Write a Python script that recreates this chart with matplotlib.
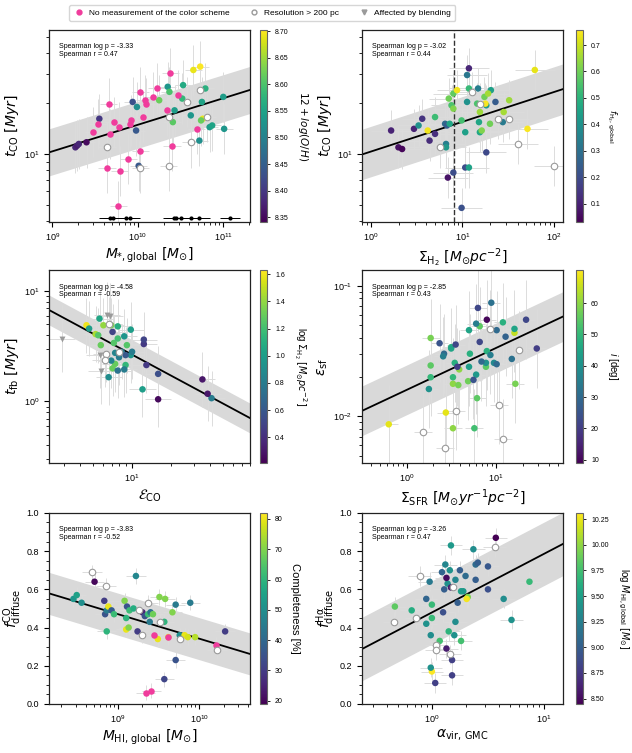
import numpy as np
import matplotlib
matplotlib.use("Agg")
import matplotlib.pyplot as plt
from matplotlib.lines import Line2D
from matplotlib.ticker import NullFormatter

plt.rcParams["font.family"] = ["Liberation Sans", "DejaVu Sans"]
plt.rcParams["mathtext.fontset"] = "dejavusans"

PINK = "#f03c9c"
ERR_COLOR = "#dcdcdc"
BAND_COLOR = "#d9d9d9"
OPEN_EDGE = "#9a9a9a"

# ---------------------------------------------------------------------------
# panel 1: t_CO vs M*,global  (log10 values)
p1_logm = [9.27, 9.29, 9.31, 9.40, 9.55, 9.94, 9.98, 10.01, 9.99, 10.25,
           10.35, 10.37, 10.43, 10.41, 10.52, 10.53, 10.62, 10.65, 10.73, 10.75,
           10.79, 10.76, 10.74, 10.72, 10.84, 10.87, 11.00, 11.01]
p1_logt = [1.04, 1.05, 1.06, 1.07, 1.21, 1.31, 1.14, 0.93, 1.28, 1.32,
           1.40, 1.37, 1.26, 1.19, 1.33, 1.41, 1.23, 1.50, 1.52, 1.31,
           1.39, 1.21, 1.20, 1.08, 1.16, 1.17, 1.34, 1.15]
p1_oh = [8.38, 8.37, 8.38, 8.35, 8.40, 8.43, 8.44, 8.44, 8.52, 8.62,
         8.53, 8.60, 8.54, 8.61, 8.58, 8.56, 8.53, 8.69, 8.70, 8.55,
         8.57, 8.69, 8.62, 8.52, 8.54, 8.55, 8.54, 8.53]
p1_pink_logm = [9.66, 9.53, 9.48, 9.67, 9.72, 9.78, 9.91, 9.92, 10.06, 10.03,
                10.08, 10.10, 10.18, 10.22, 10.34, 10.38, 10.47, 10.40, 10.03, 9.89,
                9.64, 9.79, 9.77, 10.69]
p1_pink_logt = [1.30, 1.18, 1.13, 1.12, 1.19, 1.16, 1.18, 1.20, 1.22, 1.37,
                1.32, 1.30, 1.34, 1.39, 1.26, 1.48, 1.35, 1.05, 1.02, 0.97,
                0.92, 0.90, 0.69, 1.15]
p1_open_logm = [9.64, 10.03, 10.36, 10.36, 10.57, 10.62, 10.73, 10.81]
p1_open_logt = [1.04, 0.92, 0.93, 1.22, 1.31, 1.07, 1.38, 1.22]
p1_lim_logm = [9.67, 9.71, 9.86, 9.91, 10.42, 10.45, 10.51, 10.62, 10.72, 11.08]
p1_lim_logt = 0.62

# panel 2: t_CO vs Sigma_H2
p2_logs = [0.22, 0.30, 0.34, 0.47, 0.56, 0.64, 0.70, 0.84, 1.07, 0.90,
           1.03, 0.99, 1.26, 1.36, 0.52, 0.81, 0.83, 0.86, 0.82, 0.82,
           1.05, 1.05, 1.17, 1.03, 1.07, 1.18, 1.19, 1.31, 1.26, 1.44,
           0.70, 0.85, 0.88, 0.90, 0.90, 0.99, 1.07, 1.16, 1.19, 1.21,
           1.24, 1.28, 1.30, 1.51, 1.45, 0.62, 0.94, 1.25, 1.71, 1.79]
p2_logt = [1.14, 1.04, 1.03, 1.15, 1.21, 1.08, 1.12, 0.86, 1.51, 0.89,
           0.92, 0.68, 1.01, 1.31, 1.17, 1.18, 1.17, 1.18, 1.06, 1.04,
           1.47, 1.31, 1.39, 1.13, 0.92, 1.19, 1.13, 1.38, 1.29, 1.19,
           1.22, 1.33, 1.29, 1.36, 1.27, 1.20, 1.39, 1.30, 1.25, 1.14,
           1.34, 1.36, 1.18, 1.32, 1.25, 1.14, 1.38, 1.30, 1.15, 1.50]
p2_fh2 = [0.10, 0.06, 0.04, 0.10, 0.14, 0.12, 0.13, 0.07, 0.11, 0.20,
          0.20, 0.21, 0.19, 0.24, 0.40, 0.28, 0.24, 0.46, 0.34, 0.42,
          0.32, 0.40, 0.34, 0.44, 0.45, 0.46, 0.46, 0.44, 0.42, 0.33,
          0.53, 0.60, 0.55, 0.58, 0.62, 0.54, 0.52, 0.55, 0.65, 0.62,
          0.60, 0.66, 0.60, 0.65, 0.66, 0.74, 0.74, 0.75, 0.75, 0.73]
p2_open_logs = [0.75, 1.10, 1.19, 1.39, 1.51, 1.61, 2.00]
p2_open_logt = [1.04, 1.37, 1.30, 1.21, 1.21, 1.06, 0.93]
p2_sigma_cut = 8.0

# panel 3: t_fb vs E_CO
p3_loge = [0.65, 0.72, 0.78, 0.74, 0.76, 0.84, 0.85, 0.87, 0.86, 0.89,
           0.96, 0.95, 0.67, 0.75, 0.89, 0.99, 0.94, 0.99, 1.00, 0.87,
           0.92, 0.84, 0.90, 0.89, 0.94, 0.82, 1.08, 1.61, 0.85, 1.09,
           1.09, 1.11, 1.20, 0.95, 1.20, 1.54, 1.58]
p3_logt = [0.69, 0.61, 0.69, 0.60, 0.51, 0.69, 0.30, 0.34, 0.53, 0.57,
           0.51, 0.33, 0.66, 0.75, 0.68, 0.65, 0.59, 0.42, 0.45, 0.44,
           0.45, 0.37, 0.40, 0.28, 0.29, 0.22, 0.11, 0.03, 0.63, 0.52,
           0.56, 0.33, 0.25, 0.42, 0.02, 0.20, 0.07]
p3_logsig = [1.60, 1.45, 1.40, 1.25, 1.30, 1.35, 1.30, 1.30, 1.25, 1.20,
             1.25, 1.15, 1.00, 1.05, 1.10, 1.00, 0.95, 0.95, 0.80, 0.85,
             0.80, 0.85, 0.80, 0.75, 0.80, 0.90, 1.00, 0.80, 0.50, 0.45,
             0.50, 0.45, 0.55, 0.60, 0.25, 0.30, 0.30]
p3_open_loge = [0.82, 0.80, 0.79, 0.90]
p3_open_logt = [0.70, 0.43, 0.38, 0.45]
p3_tri_loge = [0.46, 0.81, 0.83, 0.75, 0.76]
p3_tri_logt = [0.57, 0.78, 0.77, 0.42, 0.28]

# panel 4: eps_sf vs Sigma_SFR
p4_logsfr = [-0.20, 0.44, 1.21, 0.27, 0.27, 0.52, 0.58, 0.52, 0.59, 0.69,
             0.79, 0.82, 0.89, 1.22, 0.76, 0.27, 0.25, 0.50, 0.50, 0.52,
             0.54, 0.70, 0.71, 0.70, 0.78, 0.90, 0.89, 0.98, 1.08, 1.21,
             0.37, 0.42, 0.41, 0.55, 0.80, 0.95, 0.78, 0.82, 0.84, 0.94,
             1.01, 1.01, 1.11, 1.18, 1.34, 1.46, 0.75, 0.57, 0.90]
p4_logeps = [-2.06, -1.97, -1.36, -1.40, -1.61, -1.75, -1.76, -2.09, -1.64, -1.73,
             -1.86, -1.31, -1.62, -1.75, -2.09, -1.70, -1.79, -1.47, -1.48, -1.70,
             -1.59, -1.34, -1.52, -1.62, -1.68, -1.50, -1.59, -1.59, -1.28, -1.33,
             -1.44, -1.52, -1.54, -1.45, -1.17, -1.13, -1.29, -1.43, -1.58, -1.53,
             -1.34, -1.60, -1.39, -1.56, -1.26, -1.48, -1.72, -1.62, -1.26]
p4_incl = [68, 68, 65, 58, 55, 60, 58, 60, 60, 57,
           55, 55, 55, 58, 52, 50, 40, 48, 45, 50,
           48, 45, 48, 43, 42, 48, 40, 38, 48, 45,
           25, 30, 35, 22, 22, 32, 35, 22, 30, 35,
           30, 30, 28, 32, 22, 20, 25, 20, 10]
p4_open_logsfr = [0.18, 0.43, 0.55, 0.94, 1.04, 1.08, 1.26]
p4_open_logeps = [-2.12, -2.24, -1.96, -1.33, -1.91, -2.17, -1.49]

# panel 5: f_diffuse(CO) vs M_HI,global
p5_logmhi = [8.45, 8.49, 8.55, 8.71, 8.83, 8.84, 8.86, 8.86, 8.88, 8.92,
             8.95, 9.08, 9.10, 9.11, 9.10, 9.13, 9.14, 9.19, 9.22, 9.24,
             9.30, 9.33, 9.37, 9.39, 9.40, 9.43, 9.51, 9.58, 9.57, 9.49,
             9.62, 9.67, 9.71, 9.71, 9.57, 9.76, 9.82, 9.86, 9.95, 9.89,
             10.32]
p5_fco = [0.55, 0.57, 0.53, 0.64, 0.54, 0.47, 0.49, 0.38, 0.51, 0.49,
          0.47, 0.54, 0.39, 0.51, 0.45, 0.40, 0.49, 0.50, 0.67, 0.38,
          0.48, 0.46, 0.47, 0.43, 0.48, 0.47, 0.56, 0.55, 0.43, 0.34,
          0.35, 0.48, 0.52, 0.23, 0.13, 0.36, 0.36, 0.35, 0.35, 0.53,
          0.38]
p5_compl = [52, 55, 50, 20, 30, 35, 45, 60, 80, 37,
            62, 70, 80, 35, 60, 70, 62, 58, 48, 30,
            25, 35, 62, 45, 42, 68, 70, 70, 60, 80,
            80, 70, 45, 35, 32, 50, 80, 78, 75, 45,
            30]
p5_pink_logmhi = [9.44, 9.61, 9.34, 9.41, 10.21]
p5_pink_fco = [0.36, 0.35, 0.06, 0.07, 0.31]
p5_open_logmhi = [8.68, 8.85, 9.26, 9.29, 9.37, 9.52, 9.76, 10.22]
p5_open_fco = [0.69, 0.62, 0.49, 0.36, 0.53, 0.43, 0.34, 0.28]

# panel 6: f_diffuse(Halpha) vs alpha_vir
p6_logavir = [-0.33, -0.18, 0.00, 0.00, 0.07, 0.15, 0.26, 0.87, 0.32, 0.31,
              0.00, -0.05, -0.01, -0.01, -0.02, 0.12, 0.16, 0.17, 0.14, 0.21,
              0.21, 0.20, 0.26, 0.28, 0.37, 0.64, 0.71, -0.05, 0.10, 0.09,
              0.11, 0.23, 0.25, 0.30, 0.39, 0.41, 0.39, 0.50, 0.50, 0.18,
              0.18, 0.03, 0.13, 0.17, 0.13, 0.57]
p6_fha = [0.51, 0.49, 0.52, 0.45, 0.33, 0.38, 0.33, 0.64, 0.56, 0.55,
          0.17, 0.42, 0.36, 0.19, 0.64, 0.73, 0.70, 0.83, 0.63, 0.65,
          0.43, 0.36, 0.59, 0.59, 0.81, 0.55, 0.44, 0.55, 0.48, 0.69,
          0.60, 0.53, 0.70, 0.67, 0.73, 0.74, 0.65, 0.72, 0.60, 0.23,
          0.15, 0.11, 0.66, 0.61, 0.29, 0.87]
p6_logmhi = [9.85, 9.60, 9.70, 9.70, 9.75, 9.65, 9.75, 9.70, 9.95, 10.28,
             10.30, 9.40, 9.35, 9.40, 9.20, 9.30, 9.40, 9.45, 9.40, 9.30,
             9.35, 9.40, 9.50, 9.45, 9.35, 9.35, 9.40, 9.05, 8.90, 9.05,
             9.00, 9.00, 9.00, 9.10, 9.10, 9.00, 9.00, 8.95, 8.90, 8.80,
             8.80, 8.80, 8.50, 8.60, 8.60, 8.45]
p6_open_logavir = [-0.34, -0.11, -0.14, 0.04, 0.04, 0.16, 0.56, 0.19]
p6_open_fha = [0.43, 0.67, 0.45, 0.31, 0.28, 0.26, 0.82, 0.61]

# fits: intercept, slope (in log x), scatter half-width
fits = {
    1: (-0.406, 0.158, 0.14),
    2: (1.015, 0.177, 0.15),
    3: (1.058, -0.634, 0.135),
    4: (-1.797, 0.320, 0.19),
    5: (1.622, -0.128, 0.11),
    6: (0.479, 0.307, 0.166),
}
stats = {
    1: ("-3.33", "0.47"), 2: ("-3.02", "0.44"), 3: ("-4.58", "-0.59"),
    4: ("-2.85", "0.43"), 5: ("-3.83", "-0.52"), 6: ("-3.26", "0.47"),
}


def plot_points(ax, lx, ly, logy, ex, ey, **kw):
    """Error bars (in dex for log axes) plus the markers on top."""
    lx = np.asarray(lx, dtype=float)
    ly = np.asarray(ly, dtype=float) * np.ones_like(lx)
    x = 10 ** lx
    xe = [x - 10 ** (lx - ex), 10 ** (lx + ex) - x]
    if logy:
        y = 10 ** ly
        ye = [y - 10 ** (ly - ey), 10 ** (ly + ey) - y] if ey else None
    else:
        y = ly
        ye = ey
    ax.errorbar(x, y, xerr=xe, yerr=ye, fmt="none", ecolor=kw.pop("ecolor", ERR_COLOR),
                elinewidth=0.7, zorder=1)
    return ax.scatter(x, y, zorder=kw.pop("zorder", 3), **kw)


def fit_band(ax, n, xlim, logy):
    a, b, w = fits[n]
    lx = np.linspace(xlim[0], xlim[1], 60)
    ly = a + b * lx
    x = 10 ** lx
    if logy:
        lo, hi, mid = 10 ** (ly - w), 10 ** (ly + w), 10 ** ly
    else:
        lo, hi, mid = ly - w, ly + w, ly
    ax.fill_between(x, lo, hi, color=BAND_COLOR, lw=0, zorder=0)
    ax.plot(x, mid, color="k", lw=1.3, zorder=2)


def style_axes(ax, n, xlim, ylim, logy, xlabel, ylabel):
    ax.set_xscale("log")
    ax.set_xlim(10 ** xlim[0], 10 ** xlim[1])
    if logy:
        ax.set_yscale("log")
        ax.set_ylim(10 ** ylim[0], 10 ** ylim[1])
        ax.yaxis.set_minor_formatter(NullFormatter())
    else:
        ax.set_ylim(*ylim)
        ax.set_yticks(np.arange(0, 1.01, 0.2))
        ax.minorticks_on()
    ax.xaxis.set_minor_formatter(NullFormatter())
    ax.tick_params(which="major", labelsize=6.5, length=3.5, width=0.8)
    ax.tick_params(which="minor", length=2, width=0.6)
    for sp in ax.spines.values():
        sp.set_linewidth(0.9)
        sp.set_color("#222222")
    ax.set_xlabel(xlabel, fontsize=10, labelpad=2)
    ax.set_ylabel(ylabel, fontsize=10, labelpad=2)
    p, r = stats[n]
    ax.text(0.05, 0.93, f"Spearman log p = {p}\nSpearman r = {r}", transform=ax.transAxes,
            fontsize=5, va="top", linespacing=1.15)


def add_cbar(fig, sc, rect, ticks, fmt, label, size, pad):
    cax = fig.add_axes(rect)
    cb = fig.colorbar(sc, cax=cax, ticks=ticks, format=fmt)
    cb.ax.tick_params(labelsize=5, length=2.5, width=0.6)
    cb.outline.set_edgecolor("#666666")
    cb.outline.set_linewidth(0.8)
    cb.set_label(label, rotation=270, fontsize=size, labelpad=pad, va="bottom")
    return cb


fig = plt.figure(figsize=(6.32, 7.53), dpi=100)

col_left = [0.0775, 0.5728]
cb_left = [0.4114, 0.9114]
rows = [(0.7052, 0.255), (0.3851, 0.2563), (0.0651, 0.2537)]
AXW, CBW = 0.318, 0.0105


def make_axes(i, j):
    b, h = rows[i]
    ax = fig.add_axes([col_left[j], b, AXW, h])
    return ax, [cb_left[j], b, CBW, h]


S = 22
open_kw = dict(s=S, facecolor="white", edgecolor=OPEN_EDGE, linewidths=0.8)

# ---- panel 1
ax, crect = make_axes(0, 0)
xl, yl = (8.961, 11.312), (0.596, 1.738)
fit_band(ax, 1, xl, True)
sc = plot_points(ax, p1_logm, p1_logt, True, 0.1, 0.15, c=p1_oh, cmap="viridis",
                 vmin=8.341, vmax=8.702, s=S, linewidths=0)
plot_points(ax, p1_pink_logm, p1_pink_logt, True, 0.1, 0.15, color=PINK, s=S, linewidths=0)
plot_points(ax, p1_open_logm, p1_open_logt, True, 0.1, 0.15, **open_kw)
plot_points(ax, p1_lim_logm, p1_lim_logt, True, 0.12, 0, color="k", s=9, ecolor="k",
            linewidths=0)
style_axes(ax, 1, xl, yl, True, r"$M_{*,\rm global}\ [M_{\odot}]$", r"$t_{\rm CO}\ [Myr]$")
add_cbar(fig, sc, crect, np.arange(8.35, 8.71, 0.05), "%.2f", r"$12 + log(O/H)$", 7.5, 5)

# ---- panel 2
ax, crect = make_axes(0, 1)
xl = (-0.098, 2.098)
fit_band(ax, 2, xl, True)
sc = plot_points(ax, p2_logs, p2_logt, True, 0.22, 0.12, c=p2_fh2, cmap="viridis",
                 vmin=0.031, vmax=0.757, s=S, linewidths=0)
plot_points(ax, p2_open_logs, p2_open_logt, True, 0.22, 0.12, **open_kw)
ax.axvline(p2_sigma_cut, color="#333333", ls="--", lw=1.0, zorder=2)
style_axes(ax, 2, xl, yl, True, r"$\Sigma_{\rm H_2}\ [M_{\odot}pc^{-2}]$", r"$t_{\rm CO}\ [Myr]$")
add_cbar(fig, sc, crect, np.arange(0.1, 0.71, 0.1), "%.1f", r"$f_{\rm H_2,global}$", 6.5, 3)

# ---- panel 3
ax, crect = make_axes(1, 0)
xl, yl = (0.362, 1.905), (-0.557, 1.19)
fit_band(ax, 3, xl, True)
sc = plot_points(ax, p3_loge, p3_logt, True, 0.1, 0.25, c=p3_logsig, cmap="viridis",
                 vmin=0.212, vmax=1.63, s=S, linewidths=0)
plot_points(ax, p3_open_loge, p3_open_logt, True, 0.1, 0.25, **open_kw)
plot_points(ax, p3_tri_loge, p3_tri_logt, True, 0.1, 0.3, marker="v", color="#9a9a9a",
            s=18, linewidths=0)
style_axes(ax, 3, xl, yl, True, r"$\mathcal{E}_{\rm CO}$", r"$t_{\rm fb}\ [Myr]$")
add_cbar(fig, sc, crect, np.arange(0.4, 1.61, 0.2), "%.1f",
         r"log $\Sigma_{\rm H_2}$ $[M_{\odot}pc^{-2}]$", 7, 5)

# ---- panel 4
ax, crect = make_axes(1, 1)
xl, yl = (-0.5, 1.754), (-2.356, -0.88)
fit_band(ax, 4, xl, True)
sc = plot_points(ax, p4_logsfr, p4_logeps, True, 0.1, 0.3, c=p4_incl, cmap="viridis",
                 vmin=8.9, vmax=70.6, s=S, linewidths=0)
plot_points(ax, p4_open_logsfr, p4_open_logeps, True, 0.1, 0.3, **open_kw)
style_axes(ax, 4, xl, yl, True, r"$\Sigma_{\rm SFR}\ [M_{\odot}yr^{-1}pc^{-2}]$",
           r"$\varepsilon_{\rm sf}$")
add_cbar(fig, sc, crect, np.arange(10, 61, 10), "%d", r"$i$ [deg]", 7, 5)

# ---- panel 5
ax, crect = make_axes(2, 0)
xl, yl = (8.148, 10.626), (0.0, 1.0)
fit_band(ax, 5, xl, False)
sc = plot_points(ax, p5_logmhi, p5_fco, False, 0.12, 0.04, c=p5_compl, cmap="viridis",
                 vmin=18.9, vmax=82, s=S, linewidths=0)
plot_points(ax, p5_pink_logmhi, p5_pink_fco, False, 0.12, 0.04, color=PINK, s=S, linewidths=0)
plot_points(ax, p5_open_logmhi, p5_open_fco, False, 0.12, 0.04, **open_kw)
style_axes(ax, 5, xl, yl, False, r"$M_{\rm HI,\,global}\ [M_{\odot}]$",
           r"$f^{\rm CO}_{\rm diffuse}$")
add_cbar(fig, sc, crect, np.arange(20, 81, 10), "%d", "Completeness [%]", 8, 5)

# ---- panel 6
ax, crect = make_axes(2, 1)
xl = (-0.623, 1.169)
fit_band(ax, 6, xl, False)
sc = plot_points(ax, p6_logavir, p6_fha, False, 0.1, 0.05, c=p6_logmhi, cmap="viridis",
                 vmin=8.448, vmax=10.31, s=S, linewidths=0)
plot_points(ax, p6_open_logavir, p6_open_fha, False, 0.1, 0.05, **open_kw)
style_axes(ax, 6, xl, yl, False, r"$\alpha_{\rm vir,\,GMC}$", r"$f^{\rm H\alpha}_{\rm diffuse}$")
add_cbar(fig, sc, crect, np.arange(8.5, 10.26, 0.25), "%.2f",
         r"log $M_{\rm HI,global}$ $[M_{\odot}]$", 7, 5)

# shared legend on top
handles = [
    Line2D([], [], marker="o", ls="", color=PINK, markersize=3.5),
    Line2D([], [], marker="o", ls="", mfc="white", mec=OPEN_EDGE, markersize=3.5),
    Line2D([], [], marker="v", ls="", color="#9a9a9a", markersize=3.5),
]
labels = ["No measurement of the color scheme", "Resolution > 200 pc", "Affected by blending"]
fig.legend(handles, labels, loc="upper center", bbox_to_anchor=(0.415, 0.999), ncol=3,
           fontsize=6, handlelength=1.2, handletextpad=0.6, columnspacing=2.4,
           borderpad=0.5, frameon=True, edgecolor="#cccccc", fancybox=True)

fig.savefig("out.png", dpi=100)
